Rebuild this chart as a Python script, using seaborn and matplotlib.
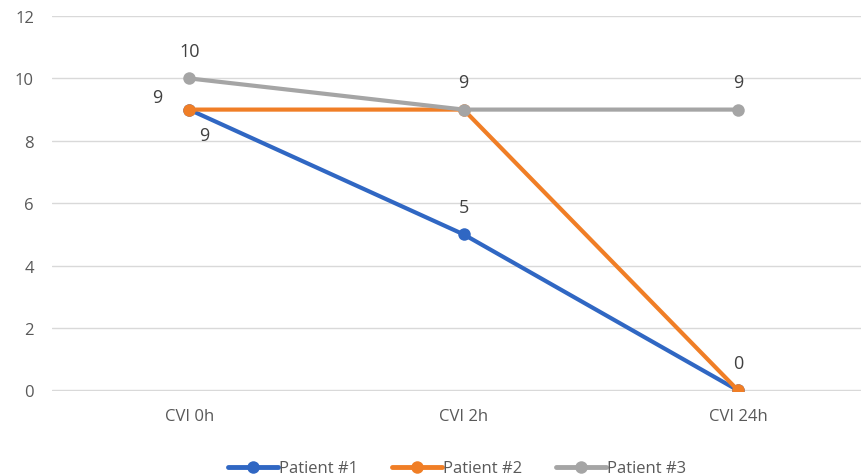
import pandas as pd
import numpy as np
import seaborn as sns
import matplotlib.pyplot as plt

# data
categories = ['CVI 0h', 'CVI 2h', 'CVI 24h']
patient1 = [9, 5, 0]
patient2 = [9, 9, 0]
patient3 = [10, 9, 9]
series_names = ['Patient #1', 'Patient #2', 'Patient #3']
colors = ['#3067C3', '#F07E26', '#A5A5A5']

df = pd.DataFrame({
    'time': categories * 3,
    'score': patient1 + patient2 + patient3,
    'patient': np.repeat(series_names, len(categories)),
})
df['pos'] = df['time'].map({c: i for i, c in enumerate(categories)})

sns.set_style('white')
plt.rcParams['font.family'] = ['Open Sans', 'DejaVu Sans']

fig = plt.figure(figsize=(8.62, 4.77), dpi=100)
ax = fig.add_axes([52 / 862, 1 - 392 / 477, 1 - 52 / 862, (392 - 17) / 477])

ax = sns.lineplot(data=df, x='pos', y='score', hue='patient',
                  palette=dict(zip(series_names, colors)),
                  marker='o', markersize=9, markeredgewidth=0,
                  linewidth=3, ax=ax, legend=True)

ax.set_xlim(-0.5, (862 - 189) / 274.5)
ax.set_ylim(-0.02, 12)
ax.set_yticks(range(0, 13, 2))
ax.set_xticks(range(len(categories)))
ax.set_xticklabels(categories)
ax.set_xlabel('')
ax.set_ylabel('')
ax.grid(axis='y', color='#D9D9D9', linewidth=1)
ax.set_axisbelow(True)
for s in ax.spines.values():
    s.set_visible(False)
ax.tick_params(axis='both', length=0, labelsize=12, colors='#595959')
ax.tick_params(axis='x', pad=12)
ax.tick_params(axis='y', pad=13)

# data labels (x index, y value, offset in points)
labels = [
    (0, patient3[0], (0, 20)),
    (0, patient2[0], (-23, 9)),
    (0, patient1[0], (11, -18)),
    (1, patient1[1], (0, 20)),
    (1, patient3[1], (0, 20)),
    (2, patient3[2], (0, 20)),
    (2, patient2[2], (0, 20)),
]
for xi, yv, off in labels:
    ax.annotate(str(yv), (xi, yv), xytext=off, textcoords='offset points',
                ha='center', va='center', fontsize=13, color='#404040')

leg = ax.legend(loc='upper center', bbox_to_anchor=(0.5, -0.145), ncol=3,
                frameon=False, fontsize=12, handlelength=3.0,
                handletextpad=0.1, columnspacing=2.0)
for t in leg.get_texts():
    t.set_color('#595959')
for h in leg.get_lines():
    h.set_linewidth(3.5)

plt.savefig('out.png', dpi=100)
